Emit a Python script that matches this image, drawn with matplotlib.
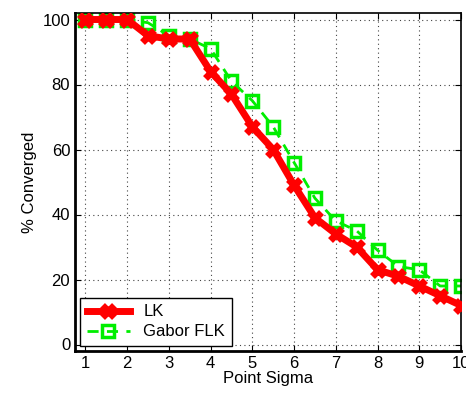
import numpy as np
import matplotlib.pyplot as plt

plt.rcParams['font.family'] = ['Liberation Sans', 'DejaVu Sans']

sigma = [1, 1.5, 2, 2.5, 3, 3.5, 4, 4.5, 5, 5.5, 6, 6.5, 7, 7.5, 8, 8.5, 9, 9.5, 10]
lk = [100, 100, 100, 95, 94, 94, 84, 77, 67, 60, 49, 39, 34, 30, 23, 21, 18, 15, 12]
gabor_flk = [100, 100, 100, 99, 95, 94, 91, 81, 75, 67, 56, 45, 38, 35, 29, 24, 23, 18, 18]

fig = plt.figure(figsize=(4.66, 3.93), dpi=100)
ax = fig.add_axes([75 / 466, 1 - 351 / 393, 386 / 466, 338 / 393])

ax.plot(sigma, lk, color='#ff0000', lw=5, marker='x', ms=9, mew=5,
        label='LK', zorder=3)
ax.plot(sigma, gabor_flk, color='#00ee00', lw=2, ls=(0, (4, 3)), marker='s',
        ms=8.5, mfc='none', mew=2.5, label='Gabor FLK', zorder=2)

ax.set_xlim(0.75, 10)
ax.set_ylim(-2, 102)
ax.set_xticks(range(1, 11))
ax.set_yticks(range(0, 101, 20))
ax.grid(True, ls=(0, (1, 3)), color='#444444', lw=0.8)
ax.tick_params(direction='in', top=True, right=True, labelsize=12, length=4)
for s in ax.spines.values():
    s.set_linewidth(1.2)
ax.spines['left'].set_linewidth(2)
ax.spines['bottom'].set_linewidth(2)

ax.set_xlabel('Point Sigma', fontsize=12, labelpad=0)
ax.set_ylabel('% Converged', fontsize=12)

leg = ax.legend(loc='lower left', fontsize=12, fancybox=False, framealpha=1,
                edgecolor='black', borderaxespad=0.3, handlelength=2.6,
                borderpad=0.4, labelspacing=0.3)
leg.get_frame().set_linewidth(1.0)

plt.savefig('out.png', dpi=100)
